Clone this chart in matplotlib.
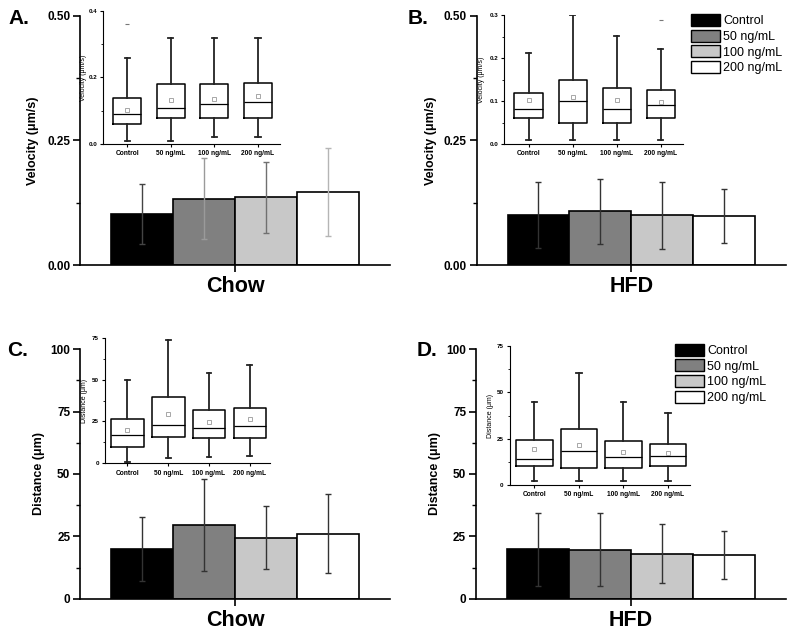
import matplotlib
matplotlib.use('Agg')
import matplotlib.pyplot as plt
from matplotlib.ticker import AutoMinorLocator

plt.rcParams['font.family'] = ['Liberation Sans', 'DejaVu Sans']

groups = ['Control', '50 ng/mL', '100 ng/mL', '200 ng/mL']
bar_colors = ['#000000', '#808080', '#c8c8c8', '#ffffff']

# bar chart values (mean, sd)
vel_chow_mean = [0.103, 0.133, 0.136, 0.146]
vel_chow_sd = [0.060, 0.081, 0.071, 0.088]
vel_hfd_mean = [0.100, 0.108, 0.100, 0.098]
vel_hfd_sd = [0.066, 0.065, 0.067, 0.054]
dist_chow_mean = [19.9, 29.7, 24.5, 26.1]
dist_chow_sd = [12.7, 18.4, 12.6, 15.8]
dist_hfd_mean = [19.8, 19.7, 18.1, 17.5]
dist_hfd_sd = [14.6, 14.7, 12.0, 9.5]

# inset box plot values
vel_chow_lo = [0.009, 0.009, 0.020, 0.020]
vel_chow_q1 = [0.059, 0.079, 0.079, 0.079]
vel_chow_med = [0.089, 0.109, 0.119, 0.125]
vel_chow_q3 = [0.139, 0.179, 0.179, 0.184]
vel_chow_hi = [0.260, 0.320, 0.320, 0.320]
vel_chow_avg = [0.101, 0.132, 0.136, 0.144]
vel_chow_out = [[0.36], [], [], []]

vel_hfd_lo = [0.010, 0.010, 0.010, 0.010]
vel_hfd_q1 = [0.060, 0.050, 0.050, 0.060]
vel_hfd_med = [0.082, 0.101, 0.082, 0.091]
vel_hfd_q3 = [0.120, 0.150, 0.131, 0.126]
vel_hfd_hi = [0.211, 0.300, 0.252, 0.221]
vel_hfd_avg = [0.102, 0.110, 0.103, 0.097]
vel_hfd_out = [[], [], [], [0.29]]

dist_chow_lo = [1.0, 3.2, 3.8, 4.2]
dist_chow_q1 = [9.9, 15.9, 15.1, 15.1]
dist_chow_med = [16.9, 22.8, 21.0, 22.2]
dist_chow_q3 = [26.6, 39.5, 31.7, 33.3]
dist_chow_hi = [50.0, 73.4, 54.2, 58.5]
dist_chow_avg = [20.2, 29.4, 24.8, 26.6]
dist_chow_out = [[], [], [], []]

dist_hfd_lo = [2.3, 2.3, 2.0, 2.0]
dist_hfd_q1 = [10.2, 9.3, 9.3, 10.4]
dist_hfd_med = [14.3, 18.6, 15.0, 15.7]
dist_hfd_q3 = [24.1, 30.0, 23.9, 22.1]
dist_hfd_hi = [45.0, 60.7, 45.0, 38.9]
dist_hfd_avg = [19.3, 21.4, 17.7, 17.3]
dist_hfd_out = [[], [], [], []]


def main_panel(rect, means, sds, ylim, yticks, fmt, ylabel, xlabel, err_colors, label_x):
    ax = fig.add_axes(rect)
    xs = [-1.5, -0.5, 0.5, 1.5]
    ax.bar(xs, means, width=1.0, color=bar_colors, edgecolor='black', linewidth=1.2, zorder=2)
    for x, m, s, c in zip(xs, means, sds, err_colors):
        ax.errorbar(x, m, yerr=s, fmt='none', ecolor=c, elinewidth=1.0, capsize=2.5, capthick=1.0, zorder=3)
    ax.set_xlim(-2.5, 2.5)
    ax.set_ylim(*ylim)
    ax.set_yticks(yticks)
    ax.set_yticklabels([fmt % v for v in yticks], fontsize=8.5, fontweight='bold')
    ax.yaxis.set_minor_locator(AutoMinorLocator(2))
    ax.set_xticks([0])
    ax.set_xticklabels([xlabel], fontsize=15.5, fontweight='bold')
    ax.tick_params(axis='x', length=5, width=1.2, pad=3)
    ax.tick_params(axis='y', which='major', length=5, width=1.2, pad=2)
    ax.tick_params(axis='y', which='minor', length=3, width=1.0)
    for side in ['top', 'right']:
        ax.spines[side].set_visible(False)
    for side in ['left', 'bottom']:
        ax.spines[side].set_linewidth(1.2)
    ax.set_ylabel(ylabel, fontsize=9, fontweight='bold')
    ax.yaxis.set_label_coords(label_x, 0.5)
    return ax


def inset_panel(rect, lo, q1, med, q3, hi, avg, out, ylim, yticks, fmt, ylabel, xlim, width, label_x):
    ax = fig.add_axes(rect)
    stats = []
    for i in range(4):
        stats.append({'whislo': lo[i], 'q1': q1[i], 'med': med[i], 'q3': q3[i],
                      'whishi': hi[i], 'mean': avg[i], 'fliers': out[i], 'label': groups[i]})
    ax.bxp(stats, positions=[1, 2, 3, 4], widths=width, showmeans=True,
           boxprops=dict(color='black', linewidth=1.1),
           medianprops=dict(color='black', linewidth=0.9),
           whiskerprops=dict(color='#222222', linewidth=1.3),
           capprops=dict(color='#222222', linewidth=1.3),
           capwidths=0.12,
           meanprops=dict(marker='s', markersize=2.2, markerfacecolor='none',
                          markeredgecolor='#999999', markeredgewidth=0.6),
           flierprops=dict(marker='_', markersize=3, markeredgecolor='#777777', markeredgewidth=0.8))
    ax.set_xlim(*xlim)
    ax.set_ylim(*ylim)
    ax.set_yticks(yticks)
    ax.set_yticklabels([fmt % v for v in yticks], fontsize=4.5, fontweight='bold')
    ax.yaxis.set_minor_locator(AutoMinorLocator(2))
    ax.set_xticks([1, 2, 3, 4])
    ax.set_xticklabels(groups, fontsize=4.8, fontweight='bold')
    ax.tick_params(axis='both', which='major', length=2.5, width=0.8, pad=2)
    ax.tick_params(axis='y', which='minor', length=1.5, width=0.6)
    for side in ['top', 'right']:
        ax.spines[side].set_visible(False)
    for side in ['left', 'bottom']:
        ax.spines[side].set_linewidth(0.8)
    ax.set_ylabel(ylabel, fontsize=5)
    ax.yaxis.set_label_coords(label_x, 0.5)
    ax.patch.set_alpha(0)
    return ax


fig = plt.figure(figsize=(7.95, 6.34), dpi=100)

axA = main_panel([0.1006, 0.582, 0.39, 0.3932], vel_chow_mean, vel_chow_sd, (0, 0.5), [0, 0.25, 0.5], '%.2f',
                 'Velocity (\u03bcm/s)', 'Chow', ['#444444', '#9a9a9a', '#707070', '#b5b5b5'], -0.132)
axB = main_panel([0.5996, 0.582, 0.3887, 0.3932], vel_hfd_mean, vel_hfd_sd, (0, 0.5), [0, 0.25, 0.5], '%.2f',
                 'Velocity (\u03bcm/s)', 'HFD', ['#333333'] * 4, -0.129)
axC = main_panel([0.1006, 0.0557, 0.39, 0.3934], dist_chow_mean, dist_chow_sd, (0, 100), [0, 25, 50, 75, 100], '%d',
                 'Distance (\u03bcm)', 'Chow', ['#333333'] * 4, -0.113)
axD = main_panel([0.5987, 0.0557, 0.3896, 0.3934], dist_hfd_mean, dist_hfd_sd, (0, 100), [0, 25, 50, 75, 100], '%d',
                 'Distance (\u03bcm)', 'HFD', ['#333333'] * 4, -0.114)

inset_panel([0.1299, 0.7729, 0.2221, 0.2098], vel_chow_lo, vel_chow_q1, vel_chow_med, vel_chow_q3, vel_chow_hi,
            vel_chow_avg, vel_chow_out, (0, 0.4), [0, 0.2, 0.4], '%.1f', 'Velocity (\u03bcm/s)',
            (0.45, 4.5), 0.64, -0.094)
inset_panel([0.6343, 0.7729, 0.2247, 0.2030], vel_hfd_lo, vel_hfd_q1, vel_hfd_med, vel_hfd_q3, vel_hfd_hi,
            vel_hfd_avg, vel_hfd_out, (0, 0.3), [0, 0.1, 0.2, 0.3], '%.1f', 'Velocity (\u03bcm/s)',
            (0.45, 4.5), 0.64, -0.108)
inset_panel([0.1321, 0.2692, 0.2078, 0.1981], dist_chow_lo, dist_chow_q1, dist_chow_med, dist_chow_q3, dist_chow_hi,
            dist_chow_avg, dist_chow_out, (0, 75), [0, 25, 50, 75], '%d', 'Distance (\u03bcm)',
            (0.45, 4.5), 0.8, -0.101)
inset_panel([0.6415, 0.2350, 0.2267, 0.2192], dist_hfd_lo, dist_hfd_q1, dist_hfd_med, dist_hfd_q3, dist_hfd_hi,
            dist_hfd_avg, dist_hfd_out, (0, 75), [0, 25, 50, 75], '%d', 'Distance (\u03bcm)',
            (0.45, 4.5), 0.82, -0.089)

# legends
handles = [plt.Rectangle((0, 0), 1, 1, facecolor=c, edgecolor='black', linewidth=1.0) for c in bar_colors]
for anchor in [(0.869, 0.978), (0.849, 0.458)]:
    fig.legend(handles, groups, loc='upper left', bbox_to_anchor=anchor, frameon=False, fontsize=9,
               handlelength=2.3, handleheight=1.1, handletextpad=0.3, labelspacing=0.2, borderpad=0,
               borderaxespad=0)

# panel letters
for lx, ly, txt in [(8, 24, 'A.'), (408, 24, 'B.'), (7, 356.5, 'C.'), (417, 356.5, 'D.')]:
    fig.text(lx / 795, 1 - ly / 634, txt, fontsize=15, fontweight='bold', ha='left', va='baseline')

fig.savefig('out.png', dpi=100)
